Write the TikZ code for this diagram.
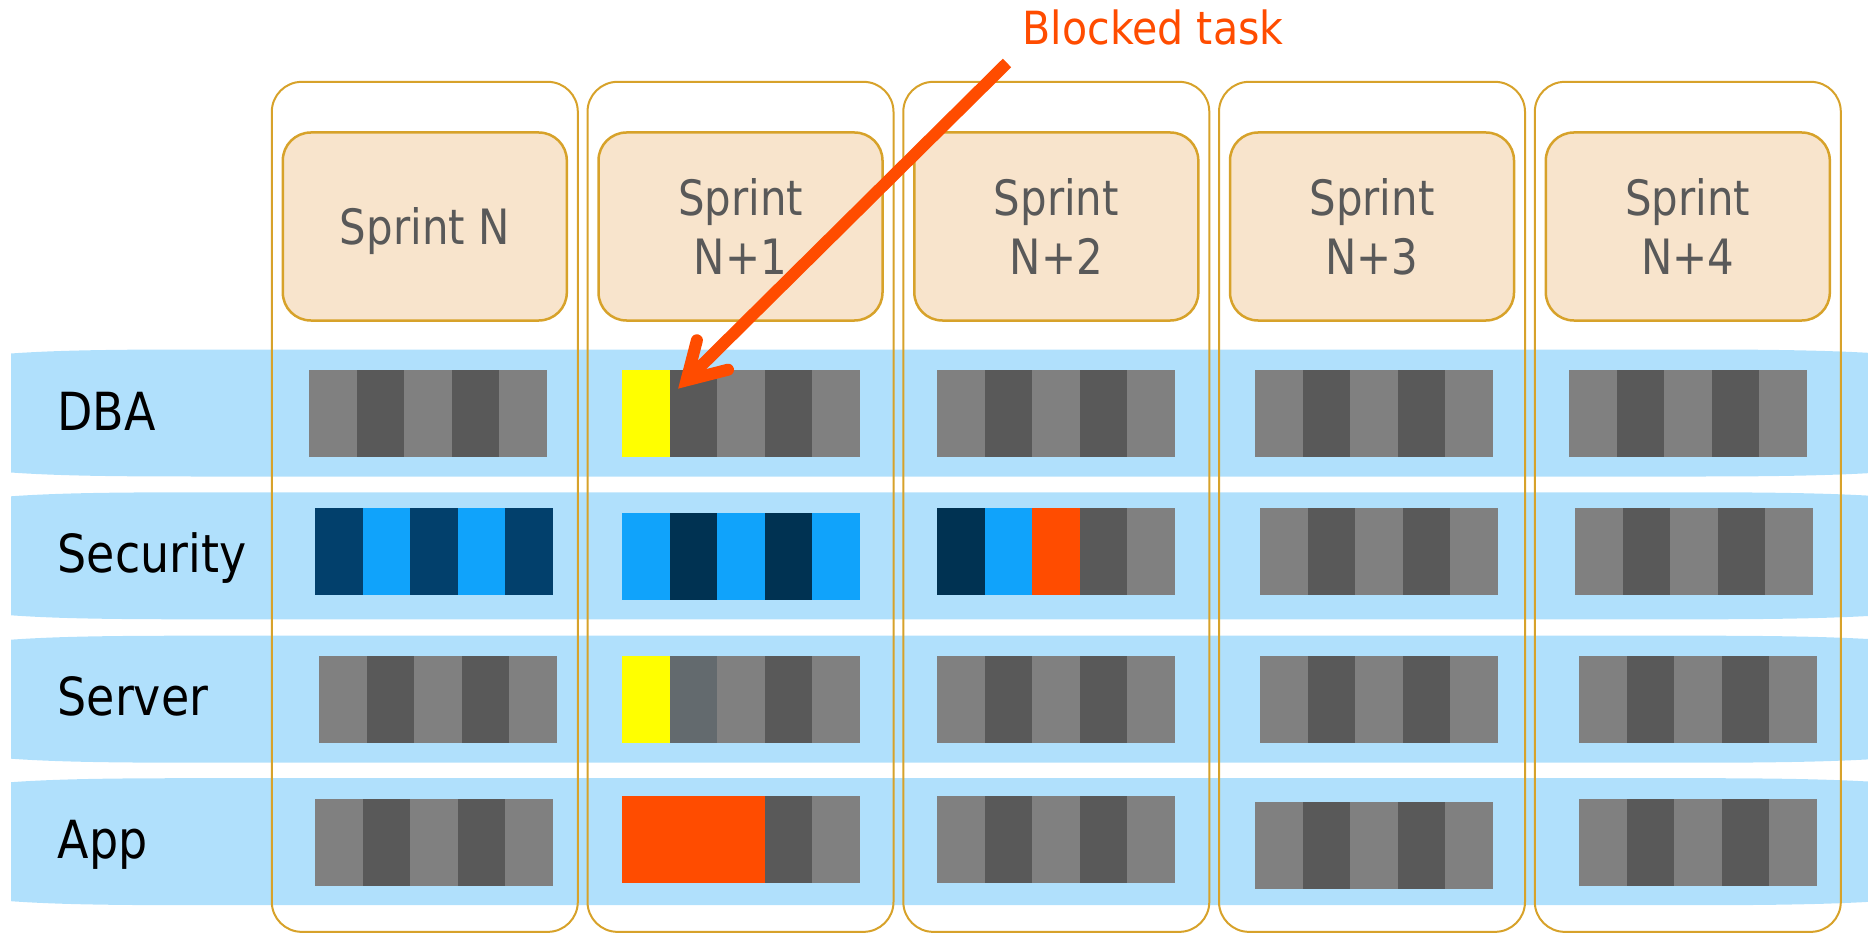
\documentclass[tikz,border=0pt]{standalone}
\usepackage{fontspec}
\newfontfamily\sprintfont{DejaVu Sans}[FakeStretch=0.86]
\newfontfamily\lanefont{DejaVu Sans}[FakeStretch=0.875]
\newfontfamily\notefont{DejaVu Sans}[FakeStretch=0.9]

\definecolor{lanefill}{RGB}{176,224,252}
\definecolor{colline}{RGB}{215,162,42}
\definecolor{headfill}{RGB}{248,228,204}
\definecolor{headtext}{RGB}{89,89,89}
\definecolor{tg}{RGB}{128,128,128}
\definecolor{td}{RGB}{89,89,89}
\definecolor{tn}{RGB}{2,64,108}
\definecolor{tm}{RGB}{0,50,82}
\definecolor{tb}{RGB}{16,163,251}
\definecolor{to}{RGB}{255,76,0}
\definecolor{ty}{RGB}{255,255,0}
\definecolor{ts}{RGB}{99,106,110}
\definecolor{alert}{RGB}{255,76,0}

% one swim lane: #1 = top edge, #2 = bottom edge
\newcommand\swimlane[2]{%
  \fill[lanefill] (11,{#1+4}) .. controls (60,{#1+0.5}) and (120,#1) .. (200,#1)
    -- (1700,#1) .. controls (1790,#1) and (1840,{#1+1.5}) .. (1880,{#1+4})
    -- (1880,{#2-4}) .. controls (1840,{#2-1.5}) and (1790,#2) .. (1700,#2)
    -- (200,#2) .. controls (120,#2) and (60,{#2-0.5}) .. (11,{#2-4}) -- cycle;}

% a sprint's task bar: #1,#2 = top-left corner, #3 = five stripe colours
\newcommand\taskbar[3]{%
  \foreach \c [count=\i from 0] in {#3}
    \fill[\c] ({#1+\i*47.6},#2) rectangle ++(47.6,87);}

\begin{document}
\begin{tikzpicture}[x=1pt,y=-1pt,
  column/.style={draw=colline, line width=2pt, rounded corners=30pt,
    minimum width=306pt, minimum height=850pt, inner sep=0pt},
  header/.style={draw=colline, fill=headfill, line width=2.5pt, rounded corners=28pt,
    minimum width=284pt, minimum height=188pt, inner sep=0pt, align=center,
    text=headtext, text depth=0pt,
    font=\sprintfont\fontsize{48.7}{58.3}\selectfont},
  lanelabel/.style={anchor=base west, inner sep=0pt,
    font=\lanefont\fontsize{52.5}{60}\selectfont},
  note/.style={anchor=base west, inner sep=0pt, text=alert,
    font=\notefont\fontsize{45.7}{52}\selectfont}]
\useasboundingbox (0,0) rectangle (1868,933);
\clip (0,0) rectangle (1868,933);

% swim lanes
\swimlane{349.5}{476.5}
\swimlane{492.3}{619.3}
\swimlane{635.7}{762.7}
\swimlane{778.2}{905.2}

% sprint columns and their headers
\foreach \k/\cx/\txt in {1/424.8/{Sprint N},2/740.5/{Sprint\\N+1},3/1056.3/{Sprint\\N+2},4/1372/{Sprint\\N+3},5/1687.8/{Sprint\\N+4}}{
  \node[column] (col\k) at (\cx,506.85) {};
  \node[header] (head\k) at (\cx,226.5) {\txt};
}

% lane labels
\node[lanelabel] (lblDBA) at (57.4,430) {DBA};
\node[lanelabel] (lblSec) at (57.4,572.8) {Security};
\node[lanelabel] (lblSrv) at (57.4,715.6) {Server};
\node[lanelabel] (lblApp) at (57.4,858.4) {App};

% DBA
\taskbar{309}{370}{tg,td,tg,td,tg}
\taskbar{622}{370}{ty,td,tg,td,tg}
\taskbar{937}{370}{tg,td,tg,td,tg}
\taskbar{1255}{370}{tg,td,tg,td,tg}
\taskbar{1569}{370}{tg,td,tg,td,tg}
% Security
\taskbar{315}{508}{tn,tb,tn,tb,tn}
\taskbar{622}{513}{tb,tm,tb,tm,tb}
\taskbar{937}{508}{tm,tb,to,td,tg}
\taskbar{1260}{508}{tg,td,tg,td,tg}
\taskbar{1575}{508}{tg,td,tg,td,tg}
% Server
\taskbar{319}{656}{tg,td,tg,td,tg}
\taskbar{622}{656}{ty,ts,tg,td,tg}
\taskbar{937}{656}{tg,td,tg,td,tg}
\taskbar{1260}{656}{tg,td,tg,td,tg}
\taskbar{1579}{656}{tg,td,tg,td,tg}
% App
\taskbar{315}{799}{tg,td,tg,td,tg}
\taskbar{622}{796}{to,to,to,td,tg}
\taskbar{937}{796}{tg,td,tg,td,tg}
\taskbar{1255}{802}{tg,td,tg,td,tg}
\taskbar{1579}{799}{tg,td,tg,td,tg}

% call-out pointing at the blocked task
\node[note] (blocked) at (1022.4,45) {Blocked task};
\coordinate (tail) at (1007,63);
\coordinate (tip) at (686.5,380.3);
\coordinate (barbA) at (696.9,340.3);
\coordinate (barbB) at (728,369.7);
\draw[alert, line width=12pt, line cap=butt] (tail) -- (tip);
\draw[alert, line width=12pt, line cap=round, line join=miter] (barbA) -- (tip) -- (barbB);
\end{tikzpicture}
\end{document}
